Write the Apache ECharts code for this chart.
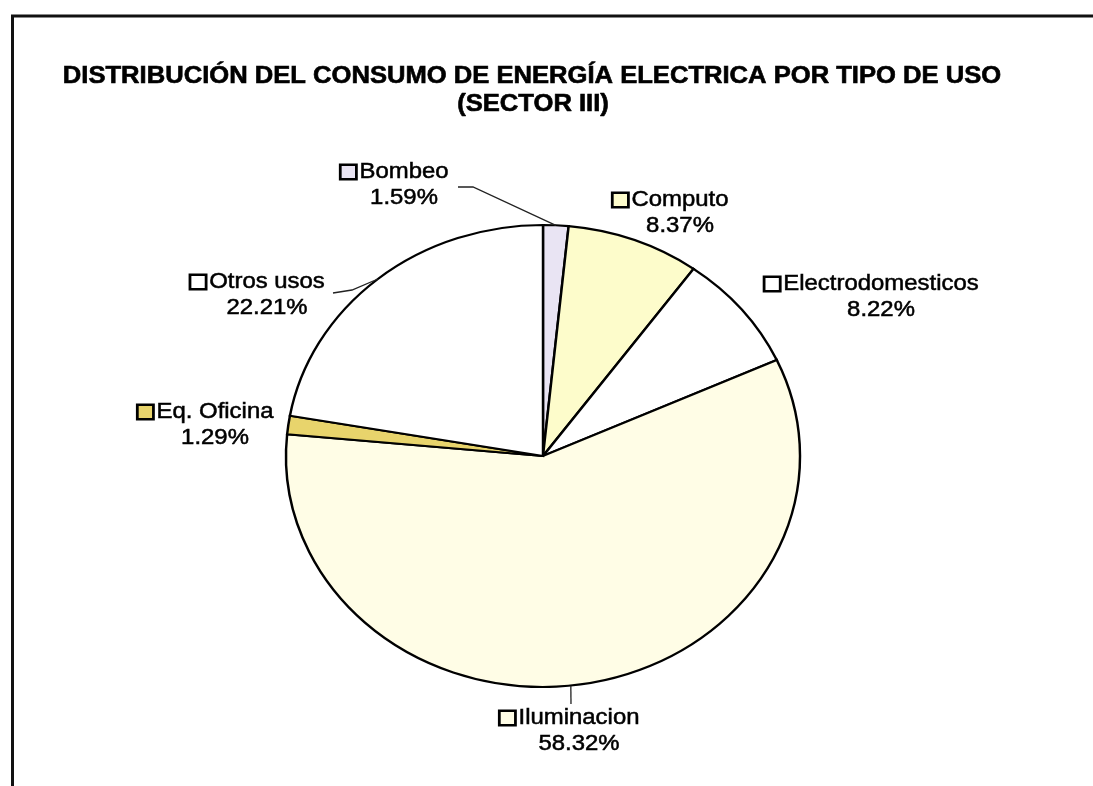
<!DOCTYPE html>
<html>
<head>
<meta charset="utf-8">
<script src="https://cdn.jsdelivr.net/npm/echarts@6/dist/echarts.min.js"></script>
<style>
  html, body { margin: 0; padding: 0; background: #fff; }
  #chart { width: 1093px; height: 786px; }
</style>
</head>
<body>
<div id="chart"></div>
<script>
// Consumption shares by type of use (percent)
const categories = ['Bombeo', 'Computo', 'Electrodomesticos', 'Iluminacion', 'Eq. Oficina', 'Otros usos'];
const shares = [1.59, 8.37, 8.22, 58.32, 1.29, 22.21];
const sliceColors = ['#E9E4F3', '#FDFCCB', '#FFFFFF', '#FFFDE6', '#E8D46C', '#FFFFFF'];
const titleLines = ['DISTRIBUCIÓN DEL CONSUMO DE ENERGÍA ELECTRICA POR TIPO DE USO', '(SECTOR III)'];

// Layout: the pie is drawn as a circle stretched horizontally into an ellipse
const CX = 543, CY = 456, R = 231, STRETCH = 1.1126;
const FONT = '"Liberation Sans", Arial, Helvetica, sans-serif';
const labelCenters = [[404, 185], [680, 213], [881, 297], [579, 731], [215, 425], [267, 295]];
// leader lines: fraction along the slice where the line meets the edge, then points toward the label
const leaderLines = [
  { at: 0.5, pts: [[458, 187], [473, 187]] },
  null,
  null,
  { at: 0.516, pts: [[571, 704]] },
  null,
  { at: 0.5, pts: [[333, 293], [352, 290]] }
];

const total = shares.reduce((a, b) => a + b, 0);
const starts = [];
shares.reduce((acc, v, i) => { starts[i] = acc; return acc + v; }, 0);

function edgePoint(frac) {
  const t = 2 * Math.PI * frac;
  return [CX + R * STRETCH * Math.sin(t), CY - R * Math.cos(t)];
}

function renderSlice(params, api) {
  const i = params.dataIndex;
  const v = api.value(0);
  const s = api.value(1);
  const a0 = -Math.PI / 2 + 2 * Math.PI * s / total;
  const a1 = a0 + 2 * Math.PI * v / total;
  const children = [{
    type: 'sector',
    shape: { cx: CX, cy: CY, r: R, r0: 0, startAngle: a0, endAngle: a1, clockwise: true },
    originX: CX, originY: CY, scaleX: STRETCH,
    style: { fill: sliceColors[i], stroke: '#000', lineWidth: 2.2 }
  }];

  const lead = leaderLines[i];
  if (lead) {
    const p = edgePoint((s + v * lead.at) / total);
    children.push({
      type: 'polyline', z2: 10,
      shape: { points: lead.pts.concat([p]) },
      style: { stroke: '#222', lineWidth: 1.3, fill: null }
    });
  }

  // a thin outline on the glyphs gives the slightly heavy print weight
  const textStyle = {
    fontFamily: FONT, fontSize: 21.5, fill: '#000', lineHeight: 26,
    stroke: '#000', lineWidth: 0.5
  };
  const [lx, ly] = labelCenters[i];
  children.push({
    type: 'text', z2: 20,
    x: lx, y: ly, scaleX: STRETCH,
    style: {
      text: '{box|}{gap|}{name|' + categories[i] + '}{pad|}\n{val|' + v.toFixed(2) + '%}',
      align: 'center', verticalAlign: 'middle',
      fontFamily: FONT, fontSize: 21.5, fill: '#000',
      rich: {
        box: { width: 12, height: 12, borderColor: '#000', borderWidth: 2.5, backgroundColor: sliceColors[i] },
        gap: { width: 4 },
        pad: { width: 16 },
        name: textStyle,
        val: textStyle
      }
    }
  });
  return { type: 'group', children };
}

const titleStyle = {
  fontFamily: FONT, fontSize: 23, fontWeight: 'bold', fill: '#000',
  align: 'center', verticalAlign: 'middle',
  stroke: '#000', lineWidth: 0.6
};

const chart = echarts.init(document.getElementById('chart'), null, { renderer: 'canvas' });
chart.setOption({
  animation: false,
  backgroundColor: '#ffffff',
  graphic: [
    { type: 'line', shape: { x1: 11, y1: 16, x2: 1093, y2: 16 }, style: { stroke: '#111', lineWidth: 3 } },
    { type: 'line', shape: { x1: 12.5, y1: 15, x2: 12.5, y2: 786 }, style: { stroke: '#111', lineWidth: 3 } },
    { type: 'text', x: 532, y: 77, scaleX: STRETCH, style: Object.assign({ text: titleLines[0] }, titleStyle) },
    { type: 'text', x: 533, y: 105, scaleX: STRETCH, style: Object.assign({ text: titleLines[1] }, titleStyle) }
  ],
  series: [{
    type: 'custom',
    coordinateSystem: 'none',
    renderItem: renderSlice,
    data: shares.map((v, i) => ({ name: categories[i], value: [v, starts[i]] }))
  }]
});
</script>
</body>
</html>
